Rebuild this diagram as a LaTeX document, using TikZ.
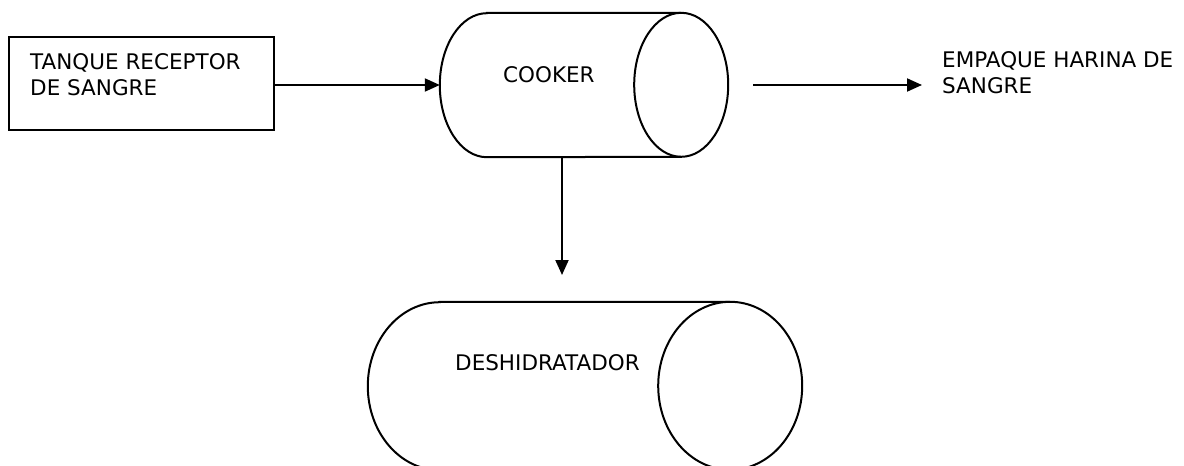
\documentclass[tikz,border=0pt]{standalone}
\usepackage{fontspec}
\setmainfont{DejaVu Sans}
\usetikzlibrary{arrows.meta,positioning,calc}
\tikzstyle{tank}=[draw, line width=2pt, minimum width=265pt, minimum height=93pt, inner sep=0pt]
\tikzstyle{drum}=[inner sep=0pt]
\tikzstyle{shell}=[line width=2pt]
\tikzstyle{tag}=[inner sep=0pt, align=left, anchor=base west, font=\fontsize{21.5}{26}\selectfont]
\tikzstyle{flow}=[line width=2pt, -{Triangle[length=15pt,width=13pt]}]

\begin{document}
\begin{tikzpicture}[x=1pt, y=-1pt]
  \useasboundingbox (0,0) rectangle (1184,466);
  % vessels
  \node[tank] (tanque) at (141,83.5) {};
  \node[drum, minimum width=288pt, minimum height=144pt] (cooker) at (584,85) {};
  \node[drum, minimum width=434pt, minimum height=168pt] (deshid) at (585,386) {};
  \foreach \drum/\rx/\ry in {cooker/47/72, deshid/72/84} {
    \draw[shell] ([xshift=\rx pt]\drum.north west) -- ([xshift=-\rx pt]\drum.north east)
      arc[start angle=90, end angle=-90, x radius=\rx pt, y radius=\ry pt]
      -- ([xshift=\rx pt]\drum.south west)
      arc[start angle=-90, end angle=-270, x radius=\rx pt, y radius=\ry pt] -- cycle;
    \draw[shell] ([xshift=-\rx pt]\drum.north east)
      arc[start angle=90, end angle=270, x radius=\rx pt, y radius=\ry pt];
  }
  % labels
  \node[tag] (tanquetxt) at (30,95) {TANQUE RECEPTOR\\DE SANGRE};
  \node[tag] (cookertxt) at (503,82) {COOKER};
  \node[tag] (deshidtxt) at (455,370) {DESHIDRATADOR};
  \node[tag] (empaque) at (942,93) {EMPAQUE HARINA DE\\SANGRE};
  % flows
  \coordinate (drop) at (562,275);
  \coordinate (outA) at (753,85);
  \draw[flow] (tanque.east |- cooker.west) -- (cooker.west);
  \draw[flow] (cooker.south -| drop) -- (drop);
  \draw[flow] (outA) -- ([xshift=-20pt]empaque.west |- outA);
\end{tikzpicture}
\end{document}
